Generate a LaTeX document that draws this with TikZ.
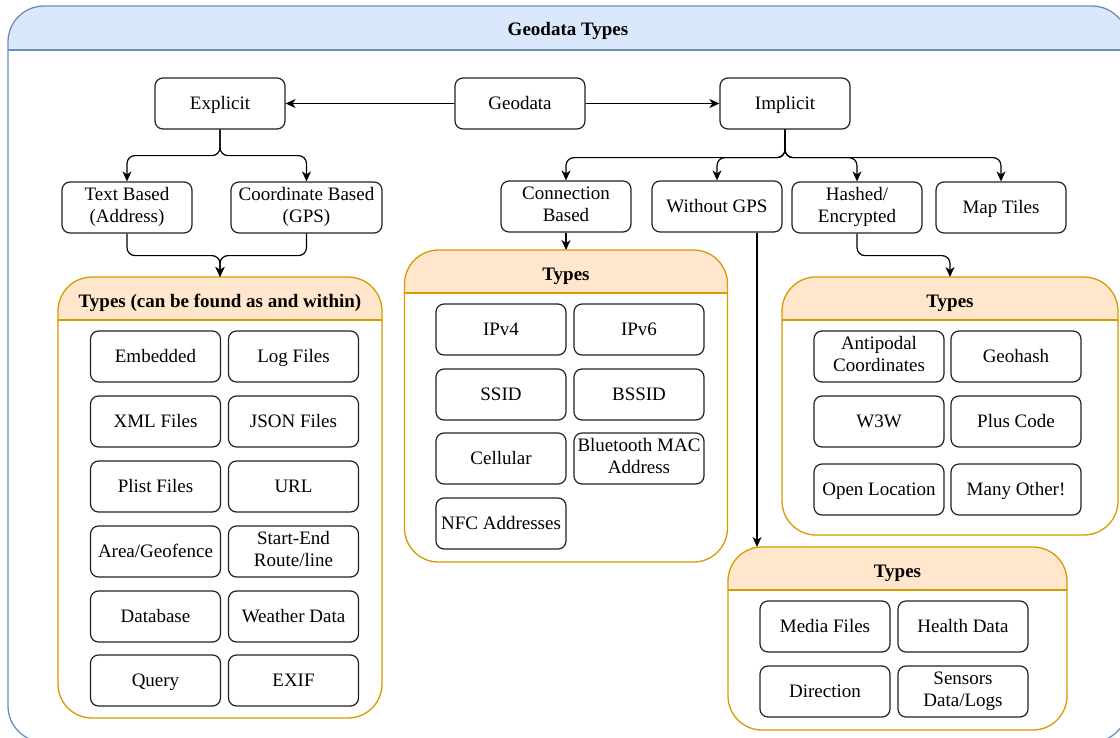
\documentclass[tikz,border=0pt]{standalone}
\usepackage{fontspec}
\setmainfont{Liberation Serif}
\usetikzlibrary{arrows.meta}
\definecolor{hdrblue}{HTML}{DAE8FC}
\definecolor{edgeblue}{HTML}{6C8EBF}
\definecolor{hdrorange}{HTML}{FFE6CC}
\definecolor{edgeorange}{HTML}{D79B00}
\definecolor{boxline}{HTML}{222222}

% header band, divider and outline of a swimlane-like container node
% #1 node name, #2 fill, #3 stroke, #4 header height, #5 corner radius
\newcommand\lanedeco[5]{%
  \begin{scope}
    \clip[rounded corners=#5] (#1.north west) rectangle (#1.south east);
    \fill[#2] (#1.north west) rectangle ([yshift=-#4]#1.north east);
  \end{scope}
  \draw[#3, line width=1.3pt] ([yshift=-#4]#1.north west) -- ([yshift=-#4]#1.north east);
  \draw[#3, line width=1.3pt, rounded corners=#5] (#1.north west) rectangle (#1.south east);
}

\begin{document}
\begin{tikzpicture}[x=1pt,y=-1pt,
  % uniform line metrics so that every label sits on the same baseline
  txt/.style={font=\fontsize{19}{22.5}\selectfont,
    execute at begin node={\rule{0pt}{17pt}},
    execute at end node={\rule[-5pt]{0pt}{5pt}}},
  box/.style={txt, draw=boxline, line width=1.2pt, rounded corners=8pt,
    minimum width=130pt, minimum height=51pt, align=center, inner sep=2pt, fill=white},
  lane/.style={fill=white, outer sep=0pt, inner sep=0pt},
  ttl/.style={txt, font=\fontsize{19}{22.5}\selectfont\bfseries, inner sep=0pt},
  arr/.style={draw=black, line width=1.2pt, rounded corners=8pt,
    -{Stealth[length=10pt,width=9pt,inset=3pt]}},
]
\clip (0,0) rectangle (1120,737);

% outer frame
\node[lane, minimum width=1120pt, minimum height=736pt] (outer) at (568,374) {};
\lanedeco{outer}{hdrblue}{edgeblue}{44pt}{36pt}
\node[ttl] (outerttl) at (568,29) {Geodata Types};

% top level
\node[box] (geo) at (520,103.5) {Geodata};
\node[box] (expl) at (220,103.5) {Explicit};
\node[box] (impl) at (785,103.5) {Implicit};

% explicit branches
\node[box, minimum width=130pt] (tb) at (127,207.5) {Text Based\\(Address)};
\node[box, minimum width=151pt] (cb) at (306.5,207.5) {Coordinate Based\\(GPS)};

% implicit branches
\node[box] (conn) at (566,206.5) {Connection\\Based};
\node[box] (wgps) at (717,206.5) {Without GPS};
\node[box] (hash) at (857,207.5) {Hashed/\\Encrypted};
\node[box] (maps) at (1001,207.5) {Map Tiles};

% containers
\node[lane, minimum width=324pt, minimum height=441pt] (c1) at (220,497.5) {};
\lanedeco{c1}{hdrorange}{edgeorange}{43pt}{34pt}
\node[ttl] (c1t) at (220,301) {Types (can be found as and within)};

\node[lane, minimum width=323pt, minimum height=312pt] (c2) at (566,406) {};
\lanedeco{c2}{hdrorange}{edgeorange}{43pt}{34pt}
\node[ttl] (c2t) at (566,274) {Types};

\node[lane, minimum width=336pt, minimum height=258pt] (c3) at (950,406) {};
\lanedeco{c3}{hdrorange}{edgeorange}{43pt}{34pt}
\node[ttl] (c3t) at (950,301) {Types};

\node[lane, minimum width=339pt, minimum height=183pt] (c4) at (897.5,638.5) {};
\lanedeco{c4}{hdrorange}{edgeorange}{43pt}{34pt}
\node[ttl] (c4t) at (897.5,571) {Types};

% items: explicit types
\node[box] (emb) at (155.5,356.5) {Embedded};
\node[box] (logf) at (293.5,356.5) {Log Files};
\node[box] (xmlf) at (155.5,421.5) {XML Files};
\node[box] (jsonf) at (293.5,421.5) {JSON Files};
\node[box] (plist) at (155.5,486.5) {Plist Files};
\node[box] (url) at (293.5,486.5) {URL};
\node[box] (area) at (155.5,551.5) {Area/Geofence};
\node[box] (route) at (293.5,551.5) {Start-End\\Route/line};
\node[box] (dbase) at (155.5,616.5) {Database};
\node[box] (weather) at (293.5,616.5) {Weather Data};
\node[box] (query) at (155.5,680.5) {Query};
\node[box] (exif) at (293.5,680.5) {EXIF};

% items: connection based
\node[box] (ipv4) at (501,329.5) {IPv4};
\node[box] (ipv6) at (639,329.5) {IPv6};
\node[box] (ssid) at (501,394.5) {SSID};
\node[box] (bssid) at (639,394.5) {BSSID};
\node[box] (cell) at (501,458.5) {Cellular};
\node[box] (btmac) at (639,458.5) {Bluetooth MAC\\Address};
\node[box] (nfc) at (501,523.5) {NFC Addresses};

% items: hashed / encrypted
\node[box] (antip) at (879,356.5) {Antipodal\\Coordinates};
\node[box] (ghash) at (1016,356.5) {Geohash};
\node[box] (w3w) at (879,421.5) {W3W};
\node[box] (plus) at (1016,421.5) {Plus Code};
\node[box] (olc) at (879,489.5) {Open Location};
\node[box] (many) at (1016,489.5) {Many Other!};

% items: without gps
\node[box] (media) at (825,626.5) {Media Files};
\node[box] (health) at (963,626.5) {Health Data};
\node[box] (dir) at (825,691.5) {Direction};
\node[box] (sens) at (963,691.5) {Sensors\\Data/Logs};

% connectors
\draw[arr] (geo) -- (expl);
\draw[arr] (geo) -- (impl);

\draw[arr] (expl.south) -- ++(0,26) -| (tb.north);
\draw[arr] (expl.south) -- ++(0,26) -| (cb.north);
\draw[arr] (tb.south) -- ++(0,22) -| (c1.north);
\draw[arr] (cb.south) -- ++(0,22) -| (c1.north);

\draw[arr] (impl.south) -- ++(0,28) -| (conn.north);
\draw[arr] (impl.south) -- ++(0,28) -| (wgps.north);
\draw[arr] (impl.south) -- ++(0,28) -| (hash.north);
\draw[arr] (impl.south) -- ++(0,28) -| (maps.north);

\draw[arr] (conn.south) -- (c2.north);
\draw[arr] (hash.south) -- ++(0,22) -| (c3.north);
\coordinate (wout) at ([xshift=40pt]wgps.south);
\draw[arr] (wout) -- (wout |- c4.north);
\end{tikzpicture}
\end{document}
